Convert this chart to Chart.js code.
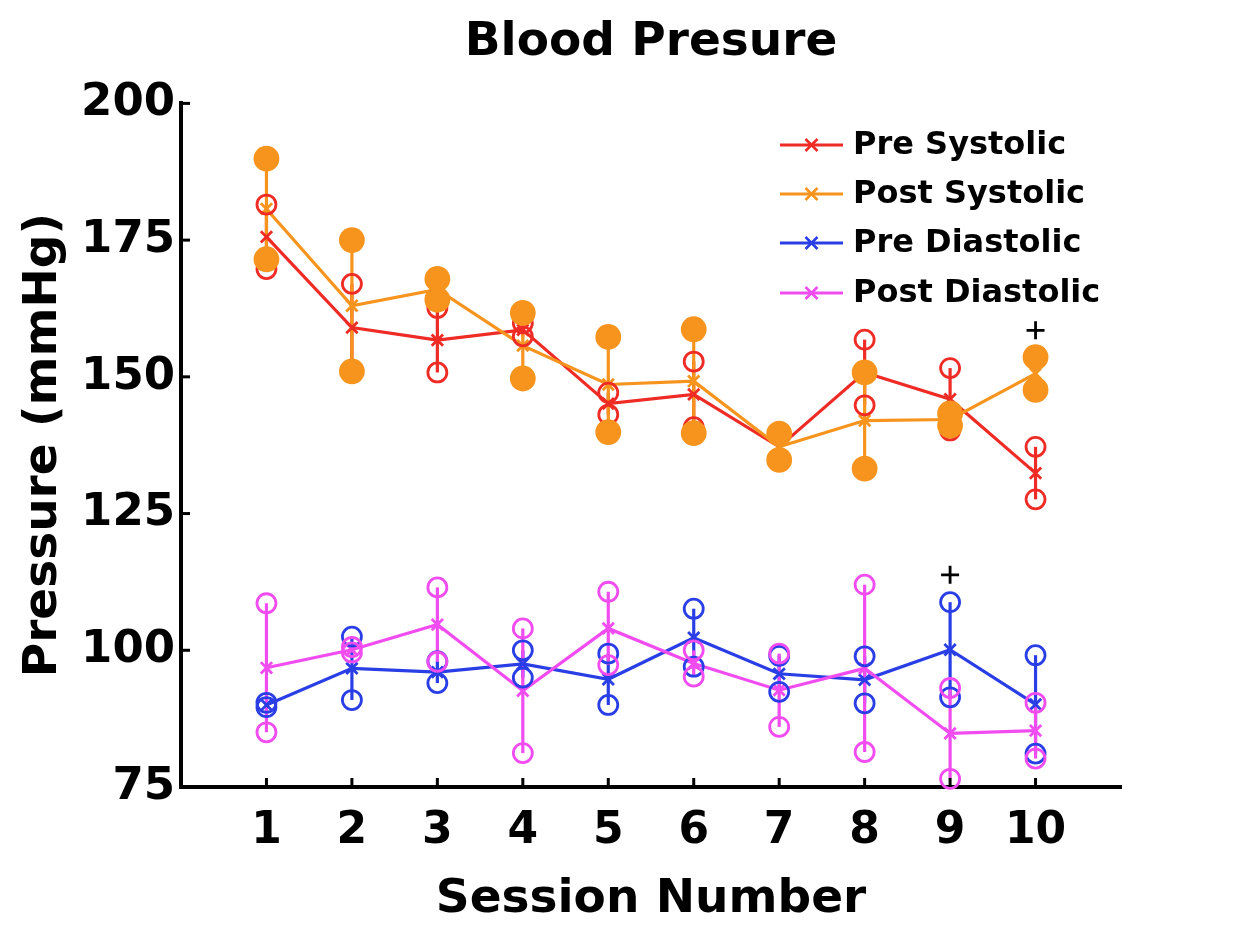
<!DOCTYPE html>
<html>
<head>
<meta charset="utf-8">
<script src="https://cdn.jsdelivr.net/npm/chart.js@4.4.1/dist/chart.umd.min.js"></script>
<style>
  html, body { margin: 0; padding: 0; background: #fff; }
  #wrap { width: 1240px; height: 930px; position: relative; }
</style>
</head>
<body>
<div id="wrap"><canvas id="c"></canvas></div>
<script>
// ---- data ----
const sessions = [1, 2, 3, 4, 5, 6, 7, 8, 9, 10];
const seriesNames = ['Pre Systolic', 'Post Systolic', 'Pre Diastolic', 'Post Diastolic'];
const preSystolicMean  = [175.6, 159.0, 156.7, 158.6, 145.1, 146.8, 137.2, 150.8, 145.9, 132.4];
const preSystolicSD    = [5.9, 8.0, 5.9, 1.2, 2.0, 6.0, 2.2, 6.0, 5.7, 4.8];
const postSystolicMean = [180.7, 163.0, 166.0, 155.7, 148.6, 149.2, 137.2, 142.0, 142.2, 150.6];
const postSystolicSD   = [9.2, 12.0, 1.9, 6.0, 8.7, 9.5, 2.4, 8.8, 1.1, 3.0];
const preDiastolicMean = [90.0, 96.7, 96.0, 97.5, 94.7, 102.3, 95.7, 94.6, 100.1, 90.1];
const preDiastolicSD   = [0.4, 5.8, 2.0, 2.5, 4.7, 5.3, 3.3, 4.3, 8.7, 9.0];
const postDiastolicMean = [96.8, 100.1, 104.7, 92.6, 104.0, 97.6, 92.7, 96.7, 84.8, 85.3];
const postDiastolicSD   = [11.8, 0.5, 6.8, 11.4, 6.7, 2.4, 6.7, 15.3, 8.3, 5.1];
const outlierX = [10, 9];
const outlierY = [158.5, 113.8];
const yTicks = [75, 100, 125, 150, 175, 200];

// ---- styles ----
const FONT = 'DejaVu Sans';
const colors = ['#ee2b25', '#f7941e', '#2a3ee6', '#f04cf0'];
const means = [preSystolicMean, postSystolicMean, preDiastolicMean, postDiastolicMean];
const sds = [preSystolicSD, postSystolicSD, preDiastolicSD, postDiastolicSD];
const filled = [false, true, false, false];

function meanPts(m) { return sessions.map((s, i) => ({ x: s, y: m[i] })); }
function endPts(m, sd) {
  const out = [];
  sessions.forEach((s, i) => { out.push({ x: s, y: m[i] + sd[i] }); out.push({ x: s, y: m[i] - sd[i] }); });
  return out;
}

const datasets = [];
// end-point circles (drawn above lines)
[3, 2, 1, 0].forEach((k, idx) => {
  datasets.push({
    label: seriesNames[k] + ' points',
    data: endPts(means[k], sds[k]),
    showLine: false,
    pointStyle: 'circle',
    pointRadius: filled[k] ? 11.5 : 9.5,
    pointHoverRadius: filled[k] ? 11.5 : 9.5,
    borderColor: colors[k],
    backgroundColor: filled[k] ? colors[k] : 'rgba(0,0,0,0)',
    pointBorderWidth: 2.8,
    order: 1 + idx,
    clip: false
  });
});
// mean lines
[3, 2, 1, 0].forEach((k, idx) => {
  datasets.push({
    label: seriesNames[k],
    data: meanPts(means[k]),
    showLine: true,
    borderColor: colors[k],
    backgroundColor: colors[k],
    borderWidth: 3.2,
    pointStyle: 'crossRot',
    pointRadius: 8,
    pointHoverRadius: 8,
    pointBorderWidth: 2.8,
    order: 5 + idx,
    clip: false
  });
});
datasets.push({
  label: 'outliers',
  data: outlierX.map((x, i) => ({ x: x, y: outlierY[i] })),
  showLine: false,
  pointStyle: 'cross',
  pointRadius: 9,
  pointBorderWidth: 2.8,
  borderColor: '#000',
  backgroundColor: '#000',
  order: 0,
  clip: false
});

const errorBars = {
  id: 'errorBars',
  beforeDatasetsDraw(chart) {
    const { ctx, scales: { x, y } } = chart;
    ctx.save();
    ctx.lineWidth = 3.2;
    [0, 1, 2, 3].forEach(k => {
      ctx.strokeStyle = colors[k];
      sessions.forEach((s, i) => {
        const px = x.getPixelForValue(s);
        ctx.beginPath();
        ctx.moveTo(px, y.getPixelForValue(means[k][i] - sds[k][i]));
        ctx.lineTo(px, y.getPixelForValue(means[k][i] + sds[k][i]));
        ctx.stroke();
      });
    });
    ctx.restore();
  }
};

const axisTicks = {
  id: 'axisTicks',
  afterDraw(chart) {
    const { ctx, chartArea, scales: { x, y } } = chart;
    ctx.save();
    ctx.strokeStyle = '#000';
    ctx.lineWidth = 3;
    sessions.forEach(s => {
      const px = x.getPixelForValue(s);
      ctx.beginPath();
      ctx.moveTo(px, chartArea.bottom);
      ctx.lineTo(px, chartArea.bottom - 9);
      ctx.stroke();
    });
    yTicks.forEach(v => {
      if (v === 75) return;
      const py = y.getPixelForValue(v);
      ctx.beginPath();
      ctx.moveTo(chartArea.left, py);
      ctx.lineTo(chartArea.left + 9, py);
      ctx.stroke();
    });
    ctx.restore();
  }
};

const legendBox = {
  id: 'legendBox',
  afterDraw(chart) {
    const { ctx } = chart;
    const x0 = 780, x1 = 843, tx = 853;
    const rows = [145, 194, 243, 293];
    ctx.save();
    seriesNames.forEach((name, k) => {
      const yy = rows[k];
      ctx.strokeStyle = colors[k];
      ctx.lineWidth = 3;
      ctx.beginPath(); ctx.moveTo(x0, yy); ctx.lineTo(x1, yy); ctx.stroke();
      const cx = (x0 + x1) / 2, r = 6;
      ctx.lineWidth = 2.6;
      ctx.beginPath();
      ctx.moveTo(cx - r, yy - r); ctx.lineTo(cx + r, yy + r);
      ctx.moveTo(cx - r, yy + r); ctx.lineTo(cx + r, yy - r);
      ctx.stroke();
      ctx.fillStyle = '#000';
      ctx.font = 'bold 32px "' + FONT + '"';
      ctx.textBaseline = 'middle';
      ctx.textAlign = 'left';
      ctx.fillText(name, tx, yy + 1);
    });
    ctx.restore();
  }
};

new Chart(document.getElementById('c'), {
  type: 'scatter',
  data: { datasets: datasets },
  plugins: [errorBars, axisTicks, legendBox],
  options: {
    responsive: true,
    maintainAspectRatio: false,
    animation: false,
    events: [],
    layout: { padding: { left: 0, right: 119, top: 0, bottom: 0 } },
    plugins: {
      legend: { display: false },
      tooltip: { enabled: false },
      title: {
        display: true,
        text: 'Blood Presure',
        color: '#000',
        fullSize: false,
        font: { family: FONT, size: 47, weight: 'bold', lineHeight: 1.2 },
        padding: { top: 15, bottom: 32 }
      }
    },
    scales: {
      x: {
        type: 'linear',
        min: 0, max: 11,
        afterFit(scale) { scale.height = 143; },
        afterBuildTicks(scale) { scale.ticks = sessions.map(v => ({ value: v })); },
        ticks: {
          autoSkip: false, maxRotation: 0, padding: 18,
          color: '#000',
          font: { family: FONT, size: 44, weight: 'bold' },
          callback: v => String(v)
        },
        grid: { display: true, drawOnChartArea: false, drawTicks: false },
        border: { display: true, color: '#000', width: 4 },
        title: {
          display: true, text: 'Session Number', color: '#000',
          font: { family: FONT, size: 47, weight: 'bold', lineHeight: 1.2 },
          padding: { top: 0, bottom: 2 }
        }
      },
      y: {
        type: 'linear',
        min: 75, max: 200,
        afterFit(scale) { scale.width = 181; },
        afterBuildTicks(scale) { scale.ticks = yTicks.map(v => ({ value: v })); },
        ticks: {
          autoSkip: false, padding: 6,
          color: '#000',
          font: { family: FONT, size: 45, weight: 'bold' },
          callback: v => String(v)
        },
        grid: { display: true, drawOnChartArea: false, drawTicks: false },
        border: { display: true, color: '#000', width: 4 },
        title: {
          display: true, text: 'Pressure (mmHg)', color: '#000',
          font: { family: FONT, size: 47, weight: 'bold', lineHeight: 1.2 },
          padding: { top: 16, bottom: 0 }
        }
      }
    }
  }
});
</script>
</body>
</html>
